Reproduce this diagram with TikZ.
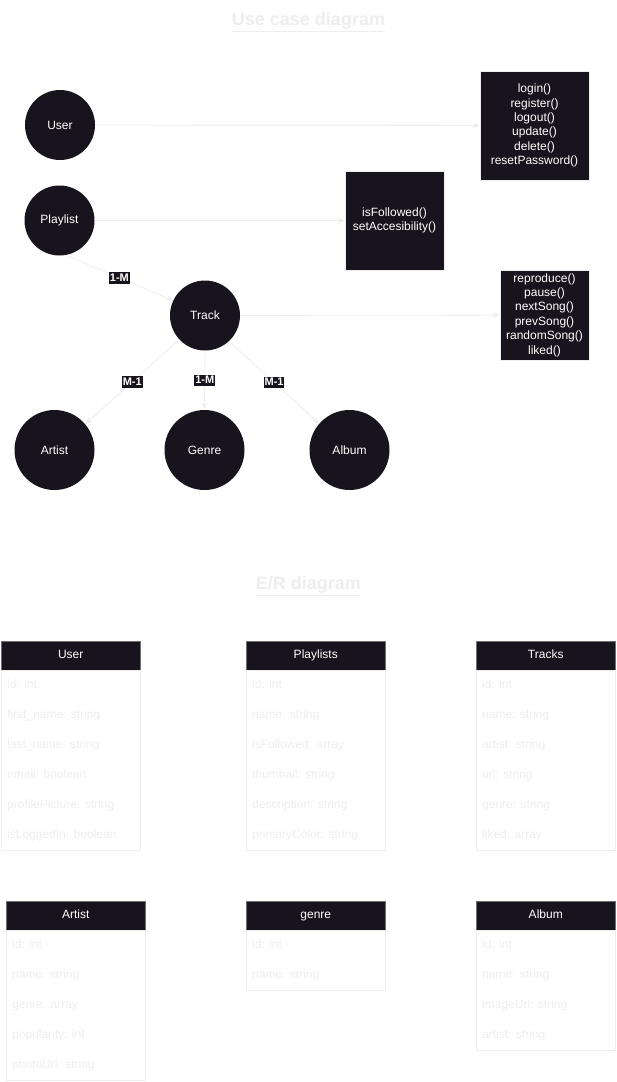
\documentclass[tikz,border=0pt]{standalone}
\usepackage{fontspec}
\setmainfont{Liberation Sans}
\usetikzlibrary{arrows.meta}
\definecolor{dk}{RGB}{24,20,29}
\definecolor{lt}{RGB}{238,238,238}
\definecolor{hb}{RGB}{110,110,115}
\newcommand{\ertable}[6]{%
  \node[erhead,anchor=north west] (#1) at (#2,#3) {#4};
  \node[erbody,anchor=north west,minimum height=#5*30pt] (#1b) at (#2,#3+29) {};
  \foreach \t [count=\i from 0] in {#6} {\node[errow,anchor=west] (#1r\i) at (#2+6,#3+44+30*\i) {\t};}
}
\begin{document}
\begin{tikzpicture}[x=1pt,y=-1pt,
  ent/.style={circle,fill=dk,text=white,minimum size=70pt,inner sep=0pt,font=\fontsize{12}{14}\selectfont},
  bigent/.style={ent,minimum size=80pt},
  fbox/.style={rectangle,fill=dk,text=white,draw=lt,line width=0.5pt,inner sep=0pt,align=center,font=\fontsize{12}{14.4}\selectfont},
  conn/.style={draw=lt,line width=0.8pt,-{Stealth[length=7pt,width=6pt,inset=2pt]}},
  lab/.style={fill=dk,text=white,inner xsep=0.8pt,inner ysep=1pt,text height=8pt,text depth=1.5pt,font=\bfseries\fontsize{11}{11}\selectfont},
  ttl/.style={text=lt,font=\bfseries\fontsize{18}{20}\selectfont},
  erhead/.style={rectangle,fill=dk,draw=hb,line width=0.5pt,text=white,minimum width=139pt,minimum height=29pt,inner sep=0pt,text height=8.6pt,text depth=2.6pt,font=\fontsize{12}{14}\selectfont},
  erbody/.style={rectangle,draw=lt,line width=0.8pt,minimum width=139pt,inner sep=0pt},
  errow/.style={text=lt,inner sep=0pt,text height=8.6pt,text depth=2.6pt,font=\fontsize{12}{14}\selectfont}
]
\useasboundingbox (0,0) rectangle (617,1082);
\fill[white] (0,0) rectangle (617,1082);

\node[ttl] (t1) at (308.5,22) {\underline{Use case diagram}};

\node[ent] (us) at (60,125) {User};
\node[ent] (pl) at (59.5,220.5) {Playlist};
\node[ent] (tr) at (205,315.5) {Track};
\node[bigent] (ar) at (54.5,450) {Artist};
\node[bigent] (ge) at (204.5,450) {Genre};
\node[bigent] (al) at (349.5,450) {Album};

\node[fbox,minimum width=109pt,minimum height=109pt] (ub) at (534.5,125.5) {login()\\register()\\logout()\\update()\\delete()\\resetPassword()};
\node[fbox,minimum width=99pt,minimum height=99pt] (pb) at (394.5,220.5) {isFollowed()\\setAccesibility()};
\node[fbox,minimum width=89pt,minimum height=90pt] (tb) at (544.5,315) {reproduce()\\pause()\\nextSong()\\prevSong()\\randomSong()\\liked()};

\draw[conn] (us) -- (ub);
\draw[conn] (pl) -- (pb);
\draw[conn] (tr) -- (tb);
\draw[conn] (pl.-80) -- node[lab] (l1) {1-M} (tr.155);
\draw[conn] (tr.223) -- node[lab] (l2) {M-1} (ar.40);
\draw[conn] (tr.south) -- node[lab] (l3) {1-M} (ge.north);
\draw[conn] (tr.-47) -- node[lab] (l4) {M-1} (al.139);

\node[ttl] (t2) at (308.5,586) {\underline{E/R diagram}};

\ertable{eu}{1}{641}{User}{6}{id: int,first\_name: string,last\_name: string,email: boolean,profilePicture: string,isLoggedIn: boolean}
\ertable{ep}{246}{641}{Playlists}{6}{id: int,name: string,isFollowed: array,thumbail: string,description: string,primaryColor: string}
\ertable{et}{476}{641}{Tracks}{6}{id: int,name: string,artist: string,url: string,genre: string,liked: array}
\ertable{ea}{6}{901}{Artist}{5}{id: int,name: string,genre: array,popularity: int,photoUrl: string}
\ertable{eg}{246}{901}{genre}{2}{id: int,name: string}
\ertable{eb}{476}{901}{Album}{4}{id: int,name: string,imageUrl: string,artist: string}
\end{tikzpicture}
\end{document}
